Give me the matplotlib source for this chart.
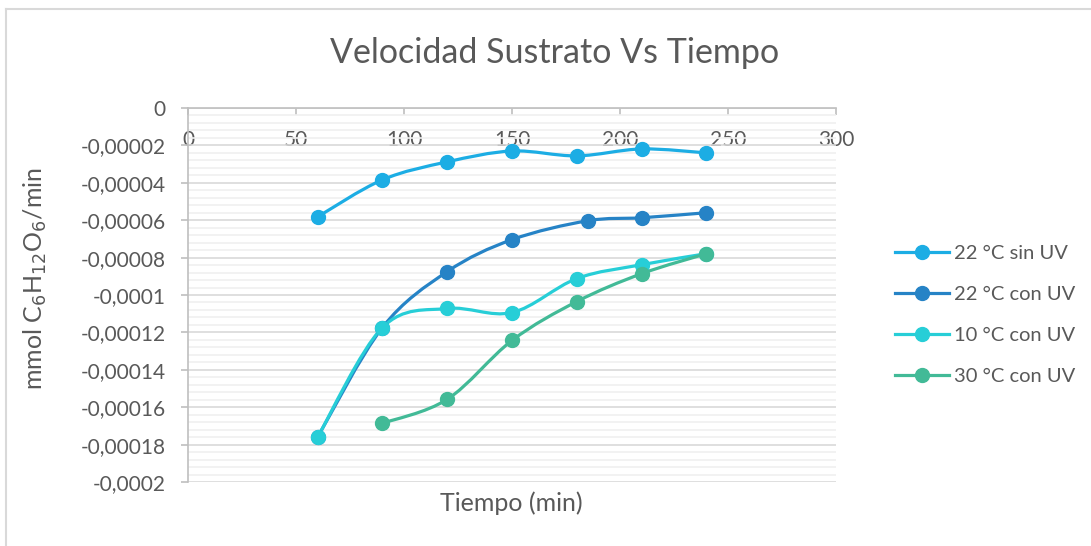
import matplotlib
matplotlib.use('Agg')
import matplotlib.pyplot as plt
from matplotlib.path import Path
from matplotlib.patches import PathPatch
from matplotlib.lines import Line2D
from matplotlib.ticker import MultipleLocator, FuncFormatter

plt.rcParams['font.family'] = ['Lato', 'DejaVu Sans']

# tiempo (min) y velocidad (mmol C6H12O6/min) por tratamiento
t_sin_uv_22 = [60, 90, 120, 150, 180, 210, 240]
v_sin_uv_22 = [-0.0000582, -0.0000384, -0.0000288, -0.0000230, -0.0000256, -0.0000219, -0.0000240]

t_con_uv_22 = [60, 90, 120, 150, 185, 210, 240]
v_con_uv_22 = [-0.0001760, -0.0001174, -0.0000875, -0.0000704, -0.0000603, -0.0000587, -0.0000560]

t_con_uv_10 = [60, 90, 120, 150, 180, 210, 240]
v_con_uv_10 = [-0.0001760, -0.0001174, -0.0001072, -0.0001094, -0.0000912, -0.0000838, -0.0000779]

t_con_uv_30 = [90, 120, 150, 180, 210, 240]
v_con_uv_30 = [-0.0001686, -0.0001558, -0.0001243, -0.0001035, -0.0000886, -0.0000779]

series = [
    ('22 °C sin UV', t_sin_uv_22, v_sin_uv_22, '#1CADE4'),
    ('22 °C con UV', t_con_uv_22, v_con_uv_22, '#2683C6'),
    ('10 °C con UV', t_con_uv_10, v_con_uv_10, '#27CED7'),
    ('30 °C con UV', t_con_uv_30, v_con_uv_30, '#42BA97'),
]

TXT = '#595959'


def smooth_path(xs, ys):
    # curva suavizada tipo Catmull-Rom con segmentos Bezier cubicos
    pts = list(zip(xs, ys))
    n = len(pts)
    verts = [pts[0]]
    codes = [Path.MOVETO]
    for i in range(n - 1):
        p0 = pts[max(i - 1, 0)]
        p1 = pts[i]
        p2 = pts[i + 1]
        p3 = pts[min(i + 2, n - 1)]
        c1 = (p1[0] + (p2[0] - p0[0]) / 6, p1[1] + (p2[1] - p0[1]) / 6)
        c2 = (p2[0] - (p3[0] - p1[0]) / 6, p2[1] - (p3[1] - p1[1]) / 6)
        verts += [c1, c2, p2]
        codes += [Path.CURVE4] * 3
    return Path(verts, codes)


fig = plt.figure(figsize=(10.91, 5.46), dpi=100)
ax = fig.add_axes([0.1723, 0.1172, 0.594, 0.685])

for label, t, v, color in series:
    ax.add_patch(PathPatch(smooth_path(t, v), fill=False, edgecolor=color,
                           lw=2.3, capstyle='round', zorder=3))
    ax.plot(t, v, 'o', color=color, ms=10, zorder=4)

handles = [Line2D([0], [0], color=c, lw=2.3, marker='o', ms=10)
           for _, _, _, c in series]
labels = [s[0] for s in series]

ax.set_xlim(0, 300)
ax.set_ylim(-0.0002, 0)
ax.xaxis.set_major_locator(MultipleLocator(50))
ax.yaxis.set_major_locator(MultipleLocator(0.00002))
ax.yaxis.set_minor_locator(MultipleLocator(0.000004))
ax.yaxis.set_major_formatter(FuncFormatter(
    lambda v, p: '0' if abs(v) < 1e-12 else ('%.5f' % v).rstrip('0').replace('.', ',')))

ax.grid(axis='y', which='major', color='#D9D9D9', lw=1.2, zorder=0)
ax.grid(axis='y', which='minor', color='#F0F0F0', lw=1.2, zorder=0)
ax.set_axisbelow(True)

for s in ['top', 'right']:
    ax.spines[s].set_visible(False)
ax.spines['bottom'].set_position(('data', 0))
ax.spines['bottom'].set_color('#BFBFBF')
ax.spines['left'].set_color('#BFBFBF')
ax.spines['bottom'].set_linewidth(1.2)
ax.spines['left'].set_linewidth(1.2)
ax.tick_params(axis='both', which='major', length=5, width=1.2, color='#BFBFBF',
               labelcolor=TXT, labelsize=15)
ax.tick_params(axis='y', which='minor', length=0)
ax.tick_params(axis='x', pad=11)
ax.tick_params(axis='y', pad=11)

fig.text(0.032, 0.49, 'mmol C$_6$H$_{12}$O$_6$/min', color=TXT, fontsize=18,
         rotation=90, ha='center', va='center')
fig.text(0.469, 0.079, 'Tiempo (min)', color=TXT, fontsize=18, ha='center', va='center')
fig.text(0.508, 0.903, 'Velocidad Sustrato Vs Tiempo', color=TXT, fontsize=24.5,
         ha='center', va='center')

fig.legend(handles, labels, loc='center left', bbox_to_anchor=(0.804, 0.423),
           frameon=False, fontsize=14.5, labelcolor=TXT, handlelength=2.65,
           handletextpad=0.25, labelspacing=1.2)

# borde del grafico
fig.add_artist(Line2D([0.0052, 0.0052], [0, 0.983], color='#D9D9D9', lw=1.5))
fig.add_artist(Line2D([0.0052, 1], [0.983, 0.983], color='#D9D9D9', lw=1.5))

fig.savefig('out.png', dpi=100)
